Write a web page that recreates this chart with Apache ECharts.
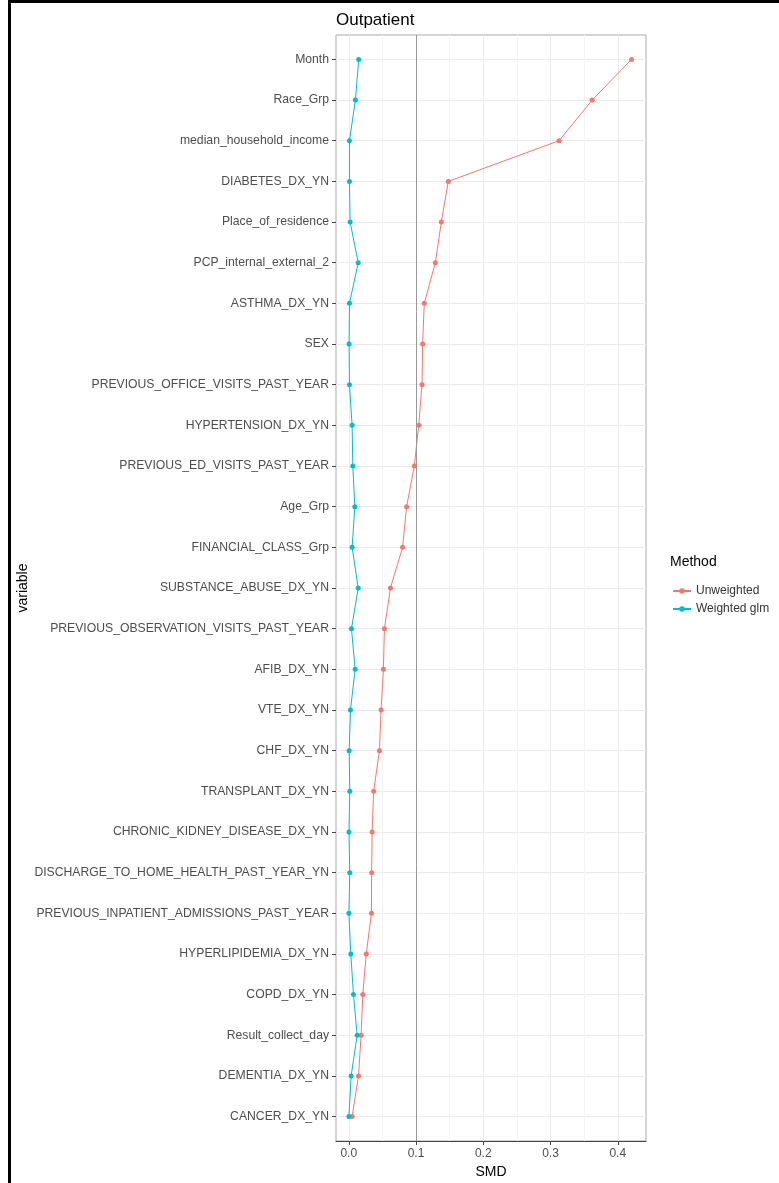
<!DOCTYPE html>
<html>
<head>
<meta charset="utf-8">
<title>Outpatient SMD</title>
<script src="https://cdn.jsdelivr.net/npm/echarts@6.0.0/dist/echarts.min.js"></script>
<style>
  html, body { margin: 0; padding: 0; background: #fff; }
  #chart { position: absolute; left: 0; top: 0; width: 779px; height: 1183px; }
  #frame {
    position: absolute; left: 8px; top: 0; width: 771px; height: 1183px;
    border-left: 3px solid #000; border-top: 3px solid #000;
    box-sizing: border-box; pointer-events: none;
  }
</style>
</head>
<body>
<div id="chart"></div>
<div id="frame"></div>
<script>
const variables = [
  'Month', 'Race_Grp', 'median_household_income', 'DIABETES_DX_YN',
  'Place_of_residence', 'PCP_internal_external_2', 'ASTHMA_DX_YN', 'SEX',
  'PREVIOUS_OFFICE_VISITS_PAST_YEAR', 'HYPERTENSION_DX_YN',
  'PREVIOUS_ED_VISITS_PAST_YEAR', 'Age_Grp', 'FINANCIAL_CLASS_Grp',
  'SUBSTANCE_ABUSE_DX_YN', 'PREVIOUS_OBSERVATION_VISITS_PAST_YEAR',
  'AFIB_DX_YN', 'VTE_DX_YN', 'CHF_DX_YN', 'TRANSPLANT_DX_YN',
  'CHRONIC_KIDNEY_DISEASE_DX_YN', 'DISCHARGE_TO_HOME_HEALTH_PAST_YEAR_YN',
  'PREVIOUS_INPATIENT_ADMISSIONS_PAST_YEAR', 'HYPERLIPIDEMIA_DX_YN',
  'COPD_DX_YN', 'Result_collect_day', 'DEMENTIA_DX_YN', 'CANCER_DX_YN'
];

const unweighted = [
  0.4205, 0.362, 0.3126, 0.148, 0.1376, 0.1287, 0.1123, 0.1098, 0.1089,
  0.104, 0.0975, 0.086, 0.080, 0.062, 0.053, 0.0515, 0.048, 0.0456,
  0.037, 0.0347, 0.034, 0.0337, 0.026, 0.0208, 0.0184, 0.0144, 0.005
];

const weightedGlm = [
  0.0148, 0.0099, 0.001, 0.001, 0.002, 0.014, 0.001, 0.0005, 0.001,
  0.005, 0.006, 0.009, 0.005, 0.014, 0.004, 0.0095, 0.0025, 0.0006,
  0.0015, 0.0003, 0.0015, 0.0002, 0.003, 0.007, 0.0125, 0.0035, 0.0002
];

const xTicks = [0, 0.1, 0.2, 0.3, 0.4];
const xMinorTicks = [0.05, 0.15, 0.25, 0.35];
const threshold = 0.1;

const FONT = '"Liberation Sans", Arial, sans-serif';
const rowIndex = variables.map((v, i) => i);

const toPoints = (values) => values.map((v, i) => [v, i]);

const chart = echarts.init(document.getElementById('chart'), null, { renderer: 'canvas' });

const option = {
  animation: false,
  backgroundColor: '#fff',
  textStyle: { fontFamily: FONT },
  title: [
    {
      text: 'Outpatient',
      left: 336,
      top: 12,
      padding: 0,
      textStyle: { fontFamily: FONT, fontSize: 17, fontWeight: 'normal', color: '#000' }
    },
    {
      text: 'Method',
      left: 670,
      top: 555,
      padding: 0,
      textStyle: { fontFamily: FONT, fontSize: 14, fontWeight: 'normal', color: '#000' }
    }
  ],
  legend: {
    orient: 'vertical',
    left: 672,
    top: 584,
    padding: 0,
    itemWidth: 18,
    itemHeight: 7,
    itemGap: 4,
    textStyle: { fontFamily: FONT, fontSize: 12, color: '#333', lineHeight: 14 },
    data: ['Unweighted', 'Weighted glm']
  },
  grid: {
    left: 336,
    right: 133,
    top: 35,
    bottom: 42,
    outerBoundsMode: 'none',
    show: true,
    borderColor: '#aaa',
    borderWidth: 1,
    backgroundColor: '#fff'
  },
  xAxis: [
    {
      type: 'value',
      name: 'SMD',
      nameLocation: 'middle',
      nameGap: 23,
      nameTextStyle: { fontFamily: FONT, fontSize: 14, color: '#000' },
      min: -0.019,
      max: 0.442,
      axisLine: { show: true, onZero: false, lineStyle: { color: '#444', width: 1 } },
      axisTick: { show: true, length: 4, customValues: xTicks, lineStyle: { color: '#444' } },
      axisLabel: {
        customValues: xTicks,
        margin: 7,
        color: '#4d4d4d',
        fontFamily: FONT,
        fontSize: 12,
        formatter: (v) => v.toFixed(1)
      },
      splitLine: { show: true, lineStyle: { color: '#ebebeb', width: 1 } }
    },
    {
      // minor vertical gridlines
      type: 'value',
      position: 'bottom',
      min: -0.019,
      max: 0.442,
      axisLine: { show: false, onZero: false },
      axisTick: { show: false, customValues: xMinorTicks },
      axisLabel: { show: false, customValues: xMinorTicks },
      splitLine: { show: true, lineStyle: { color: '#f4f4f4', width: 1 } }
    }
  ],
  yAxis: {
    type: 'value',
    name: 'variable',
    nameLocation: 'middle',
    nameGap: 306,
    nameRotate: 90,
    nameTextStyle: { fontFamily: FONT, fontSize: 14, color: '#000' },
    inverse: true,
    min: -0.6,
    max: variables.length - 0.4,
    axisLine: { show: false, onZero: false },
    axisTick: { show: true, length: 4, customValues: rowIndex, lineStyle: { color: '#444' } },
    axisLabel: {
      customValues: rowIndex,
      margin: 7,
      color: '#4d4d4d',
      fontFamily: FONT,
      fontSize: 12.2,
      formatter: (v) => variables[Math.round(v)]
    },
    splitLine: { show: true, lineStyle: { color: '#ebebeb', width: 1 } }
  },
  series: [
    {
      name: 'Unweighted',
      type: 'line',
      data: toPoints(unweighted),
      symbol: 'circle',
      symbolSize: 5,
      lineStyle: { color: '#F8766D', width: 1 },
      itemStyle: { color: '#F8766D' },
      z: 3,
      markLine: {
        silent: true,
        symbol: ['none', 'none'],
        label: { show: false },
        lineStyle: { color: '#999', type: 'solid', width: 1 },
        data: [{ xAxis: threshold }]
      }
    },
    {
      name: 'Weighted glm',
      type: 'line',
      data: toPoints(weightedGlm),
      symbol: 'circle',
      symbolSize: 5,
      lineStyle: { color: '#00BFC4', width: 1 },
      itemStyle: { color: '#00BFC4' },
      z: 3
    }
  ]
};

chart.setOption(option);
</script>
</body>
</html>
